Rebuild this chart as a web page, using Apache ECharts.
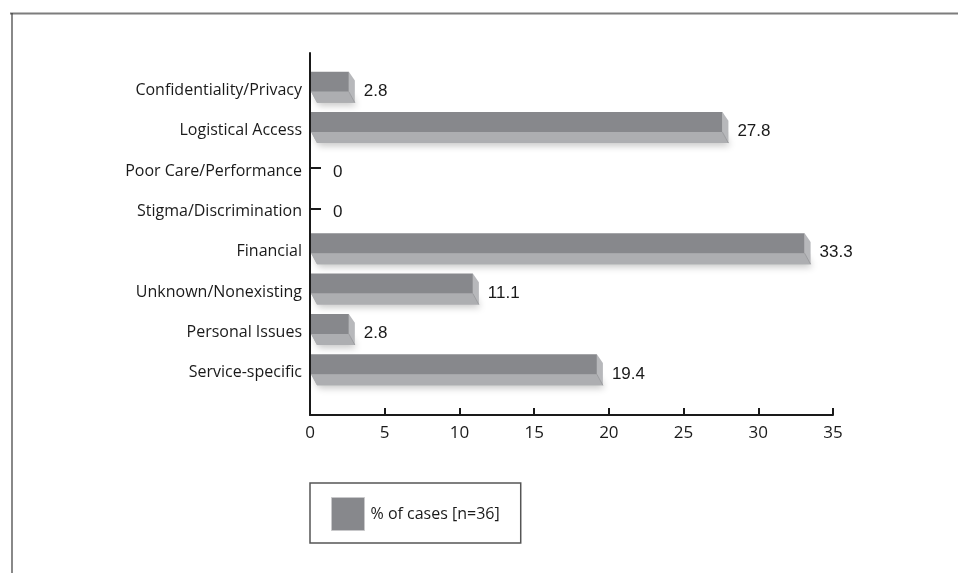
<!DOCTYPE html>
<html>
<head>
<meta charset="utf-8">
<script src="https://cdn.jsdelivr.net/npm/echarts@6/dist/echarts.min.js"></script>
<style>
  html, body { margin: 0; padding: 0; background: #ffffff; }
  #chart { width: 958px; height: 573px; }
</style>
</head>
<body>
<div id="chart"></div>
<script>
// Reasons given, share of cases
const categories = [
  'Confidentiality/Privacy',
  'Logistical Access',
  'Poor Care/Performance',
  'Stigma/Discrimination',
  'Financial',
  'Unknown/Nonexisting',
  'Personal Issues',
  'Service-specific'
];
const casePercent = [2.8, 27.8, 0, 0, 33.3, 11.1, 2.8, 19.4];
const seriesName = '% of cases [n=36]';
const xMin = 0;
const xMax = 35;
const xStep = 5;

const FRONT = '#87888c';
const BOTTOM = '#adaeb1';
const SIDE = '#b7b8bb';
const INK = '#1a1a1a';
const LABEL_FONT = '"Open Sans", "Noto Sans", sans-serif';
const VALUE_FONT = '"Liberation Sans", Arial, sans-serif';

// 3D-looking horizontal bar: front face, bottom depth face, right side face, value label
function renderBar3D(params, api) {
  const v = api.value(0);
  const cat = api.value(1);
  const base = api.coord([0, cat]);
  const end = api.coord([v, cat]);
  const c = base[1];
  const x0 = base[0] + 1;
  const dx = 6, dy = 11;
  const ft = c - 15.5, fb = c + 4.5;
  const children = [];
  if (v > 0) {
    const x1 = end[0] - 3;
    const depthPts = [[x0, fb], [x1, fb], [x1 + dx, fb + dy], [x0 + dx, fb + dy]];
    children.push({
      type: 'polygon',
      shape: { points: depthPts },
      style: { fill: BOTTOM, shadowBlur: 7, shadowColor: 'rgba(0,0,0,0.22)', shadowOffsetX: 2, shadowOffsetY: 3 }
    });
    children.push({
      type: 'polygon',
      shape: { points: [[x1, ft], [x1 + dx, ft + dy * 0.8], [x1 + dx, fb + dy], [x1, fb]] },
      style: { fill: SIDE }
    });
    children.push({
      type: 'polygon',
      shape: { points: depthPts },
      style: { fill: BOTTOM }
    });
    children.push({
      type: 'line',
      shape: { x1: x1, y1: fb, x2: x1 + dx, y2: fb + dy },
      style: { stroke: '#9c9da0', lineWidth: 1 }
    });
    children.push({
      type: 'rect',
      shape: { x: x0, y: ft, width: x1 - x0, height: fb - ft },
      style: { fill: FRONT }
    });
  }
  const lx = Math.max(end[0] + 12, base[0] + 23);
  children.push({
    type: 'text',
    x: lx,
    y: c + 4,
    style: {
      text: String(v),
      fontSize: 17,
      fontFamily: VALUE_FONT,
      fill: INK,
      align: 'left',
      verticalAlign: 'middle'
    }
  });
  return { type: 'group', children: children };
}

const chart = echarts.init(document.getElementById('chart'), null, { renderer: 'canvas' });

chart.setOption({
  animation: false,
  backgroundColor: '#ffffff',
  graphic: [
    { type: 'line', shape: { x1: 10, y1: 13.5, x2: 958, y2: 13.5 }, style: { stroke: '#7d7d7d', lineWidth: 2 } },
    { type: 'line', shape: { x1: 12, y1: 13, x2: 12, y2: 573 }, style: { stroke: '#3a3a3a', lineWidth: 1.2 } }
  ],
  legend: {
    left: 310,
    top: 483,
    orient: 'horizontal',
    itemWidth: 33,
    itemHeight: 33,
    itemGap: 10,
    padding: [14, 21, 12, 21],
    borderColor: '#555555',
    borderWidth: 1.5,
    selectedMode: false,
    textStyle: { fontSize: 16, fontFamily: LABEL_FONT, color: INK, padding: [0, 0, 0, 1] },
    data: [{ name: seriesName, icon: 'rect', itemStyle: { color: FRONT, borderColor: '#c8c8ca', borderWidth: 1 } }]
  },
  grid: [
    { left: 310, right: 125, top: 53, bottom: 158 },
    { left: 310, right: 125, top: 67, height: 323 }
  ],
  xAxis: [
    {
      gridIndex: 0,
      type: 'value',
      min: xMin,
      max: xMax,
      interval: xStep,
      axisLine: { show: true, lineStyle: { color: INK, width: 2 } },
      axisTick: { show: true, inside: true, length: 7, lineStyle: { color: INK, width: 2 } },
      axisLabel: { fontSize: 17, fontFamily: LABEL_FONT, color: INK, margin: 10 },
      splitLine: { show: false }
    },
    {
      gridIndex: 1,
      type: 'value',
      min: xMin,
      max: xMax,
      show: false
    }
  ],
  yAxis: [
    {
      gridIndex: 0,
      type: 'value',
      min: 0,
      max: 1,
      axisLine: { show: true, lineStyle: { color: INK, width: 2 } },
      axisTick: { show: false },
      axisLabel: { show: false },
      splitLine: { show: false }
    },
    {
      gridIndex: 1,
      type: 'category',
      inverse: true,
      data: categories,
      axisLine: { show: false },
      axisTick: { show: true, inside: true, alignWithLabel: true, length: 11, lineStyle: { color: INK, width: 2 } },
      axisLabel: { fontSize: 16, fontFamily: LABEL_FONT, color: INK, margin: 8, verticalAlign: 'top', lineHeight: 6 },
      splitLine: { show: false }
    }
  ],
  series: [
    {
      name: seriesName,
      type: 'custom',
      xAxisIndex: 1,
      yAxisIndex: 1,
      itemStyle: { color: FRONT },
      encode: { x: 0, y: 1 },
      renderItem: renderBar3D,
      data: casePercent.map((v, i) => [v, i])
    }
  ]
});
</script>
</body>
</html>
